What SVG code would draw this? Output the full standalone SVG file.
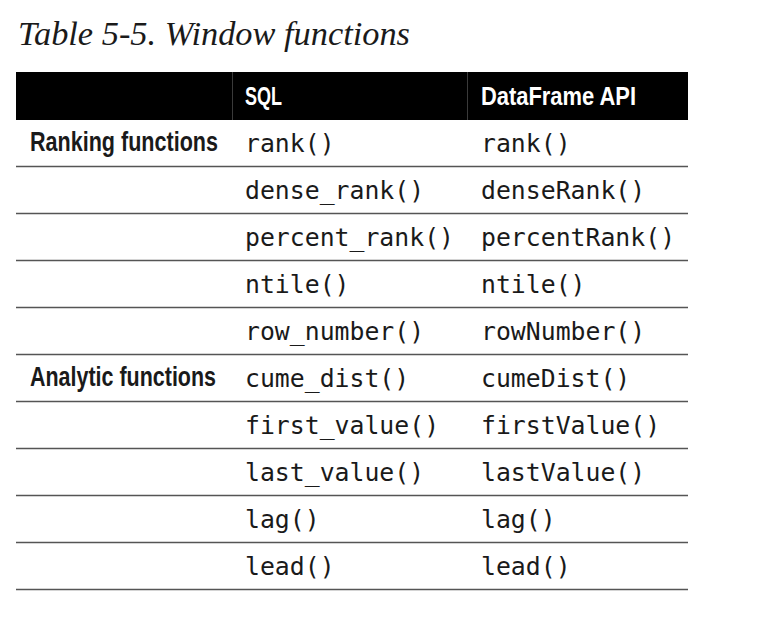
<svg xmlns="http://www.w3.org/2000/svg" width="762" height="630" viewBox="0 0 762 630">
<style>
.title{font-family:"Liberation Serif",serif;font-style:italic;font-size:33px;fill:#1a1a1a}
.hd{font-family:"Liberation Sans",sans-serif;font-weight:bold;font-size:26px;fill:#fff}
.lab{font-family:"Liberation Sans",sans-serif;font-weight:bold;font-size:27px;fill:#1a1a1a}
.code{font-family:"DejaVu Sans Mono",monospace;font-size:24.8px;fill:#1a1a1a}
.rule{stroke:#555;stroke-width:1.3}
.sep{stroke:#3a3a3a;stroke-width:1}
</style>
<rect width="762" height="630" fill="#fff"/>
<text id="title" class="title" x="18" y="45" textLength="392" lengthAdjust="spacingAndGlyphs">Table 5-5. Window functions</text>
<g id="header">
<rect x="16" y="72" width="672" height="48" fill="#000"/>
<line class="sep" x1="232.5" y1="72" x2="232.5" y2="120"/>
<line class="sep" x1="467.5" y1="72" x2="467.5" y2="120"/>
<text class="hd" x="245" y="105" textLength="37" lengthAdjust="spacingAndGlyphs">SQL</text>
<text class="hd" x="481" y="105" textLength="155" lengthAdjust="spacingAndGlyphs">DataFrame API</text>
</g>
<g id="rules">
<line class="rule" x1="16" y1="166.5" x2="688" y2="166.5"/>
<line class="rule" x1="16" y1="213.5" x2="688" y2="213.5"/>
<line class="rule" x1="16" y1="260.5" x2="688" y2="260.5"/>
<line class="rule" x1="16" y1="307.5" x2="688" y2="307.5"/>
<line class="rule" x1="16" y1="354.5" x2="688" y2="354.5"/>
<line class="rule" x1="16" y1="401.5" x2="688" y2="401.5"/>
<line class="rule" x1="16" y1="448.5" x2="688" y2="448.5"/>
<line class="rule" x1="16" y1="495.5" x2="688" y2="495.5"/>
<line class="rule" x1="16" y1="542.5" x2="688" y2="542.5"/>
<line class="rule" x1="16" y1="589.5" x2="688" y2="589.5"/>
</g>
<g id="labels">
<g transform="scale(0.8,1)">
<text class="lab" x="37.5" y="151" textLength="235" lengthAdjust="spacingAndGlyphs">Ranking functions</text>
<text class="lab" x="37.5" y="386" textLength="232.5" lengthAdjust="spacingAndGlyphs">Analytic functions</text>
</g>
</g>
<g id="sql">
<text class="code" x="245" y="152">rank()</text>
<text class="code" x="245" y="199">dense_rank()</text>
<text class="code" x="245" y="246">percent_rank()</text>
<text class="code" x="245" y="293">ntile()</text>
<text class="code" x="245" y="340">row_number()</text>
<text class="code" x="245" y="387">cume_dist()</text>
<text class="code" x="245" y="434">first_value()</text>
<text class="code" x="245" y="481">last_value()</text>
<text class="code" x="245" y="528">lag()</text>
<text class="code" x="245" y="575">lead()</text>
</g>
<g id="api">
<text class="code" x="481" y="152">rank()</text>
<text class="code" x="481" y="199">denseRank()</text>
<text class="code" x="481" y="246">percentRank()</text>
<text class="code" x="481" y="293">ntile()</text>
<text class="code" x="481" y="340">rowNumber()</text>
<text class="code" x="481" y="387">cumeDist()</text>
<text class="code" x="481" y="434">firstValue()</text>
<text class="code" x="481" y="481">lastValue()</text>
<text class="code" x="481" y="528">lag()</text>
<text class="code" x="481" y="575">lead()</text>
</g>
</svg>
